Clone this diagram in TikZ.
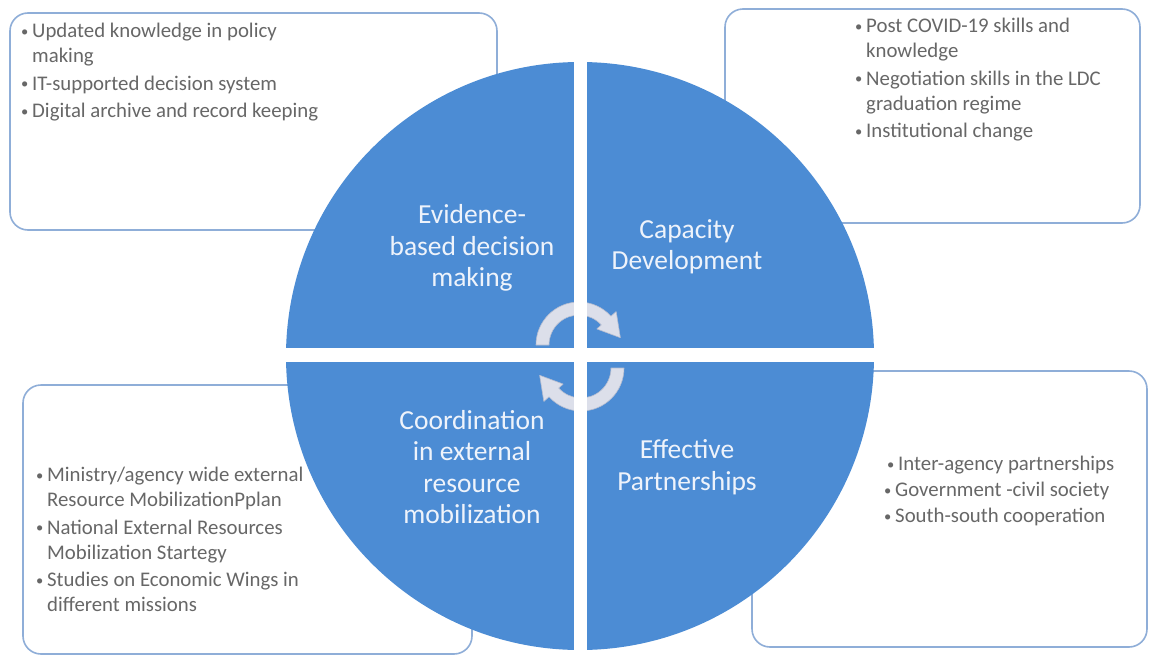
\documentclass[tikz,border=0pt]{standalone}
\usepackage{fontspec}
\setmainfont{Carlito}
\usetikzlibrary{calc}
\definecolor{wheelblue}{HTML}{4C8CD4}
\definecolor{framecol}{HTML}{8FAED8}
\definecolor{notegray}{HTML}{676767}
\definecolor{cyclefill}{HTML}{DCDFEA}
\definecolor{cycleedge}{HTML}{B4BCD0}
\definecolor{labelcol}{HTML}{EEF3FB}
% bullet and continuation indent for the note lists
\newcommand\bul[1][11pt]{\makebox[#1][l]{\raisebox{0.12ex}{\scalebox{0.7}{\textbullet}}}}
\newcommand\cont{\hspace*{11pt}}
\begin{document}
\begin{tikzpicture}[x=1pt,y=-1pt,
  notebox/.style={draw=framecol, line width=1.6pt, rounded corners=18pt, fill=white},
  notetext/.style={anchor=north west, inner sep=0pt, align=left, text=notegray,
    font=\fontsize{20.8}{25}\selectfont},
  quadlabel/.style={align=center, text=labelcol, inner sep=0pt,
    font=\fontsize{27.5}{31.5}\selectfont},
  cyclearrow/.style={fill=cyclefill, draw=cycleedge, line width=0.6pt, line join=round}]
\useasboundingbox (0,0) rectangle (1149,656);
\fill[white] (0,0) rectangle (1149,656);

% note frames behind the wheel
\draw[notebox] (10,13) rectangle (497,230);
\draw[notebox] (725,9) rectangle (1140,223);
\draw[notebox] (23,385) rectangle (472,654);
\draw[notebox] (752,371) rectangle (1147,647);

% note texts
\node[notetext] (noteTL) at (21,23) {%
  \bul Updated knowledge in policy\\
  \cont making\\[2.5pt]
  \bul IT-supported decision system\\[2.5pt]
  \bul Digital archive and record keeping};
\node[notetext] (noteTR) at (855,18) {%
  \bul Post COVID-19 skills and\\
  \cont knowledge\\[2.5pt]
  \bul Negotiation skills in the LDC\\
  \cont graduation regime\\[2.5pt]
  \bul Institutional change};
\node[notetext] (noteBL) at (36,467) {%
  \bul Ministry/agency wide external\\
  \cont Resource MobilizationPplan\\[2.5pt]
  \bul National External Resources\\
  \cont Mobilization Startegy\\[2.5pt]
  \bul Studies on Economic Wings in\\
  \cont different missions};
\node[notetext] (noteBR) at (884,456) {%
  \hspace*{3pt}\bul Inter-agency partnerships\\[1pt]
  \bul Government -civil society\\[1pt]
  \bul South-south cooperation};

% the wheel
\coordinate (hub) at (580,356);
\fill[wheelblue] (hub) circle[radius=294];

% cycle arrows at the hub
\coordinate (cA) at (579,345);
\coordinate (cB) at (581,368);
\draw[cyclearrow] ($(cA)+(180:43)$) arc[start angle=180, end angle=318, radius=43]
  -- ($(cA)+(318:50)$) -- ($(cA)+(350:42)$) -- ($(cA)+(318:24)$)
  -- ($(cA)+(318:30)$) arc[start angle=318, end angle=180, radius=30] -- cycle;
\draw[cyclearrow] ($(cB)+(0:43)$) arc[start angle=0, end angle=138, radius=43]
  -- ($(cB)+(138:50)$) -- ($(cB)+(170:42)$) -- ($(cB)+(138:24)$)
  -- ($(cB)+(138:30)$) arc[start angle=138, end angle=0, radius=30] -- cycle;

% white gaps between the quadrants
\begin{scope}
  \clip (hub) circle[radius=296];
  \fill[white] (574,0) rectangle (587,656);
  \fill[white] (0,348) rectangle (1149,362);
\end{scope}

% quadrant labels
\node[quadlabel] (evid) at (472,248) {Evidence-\\based decision\\making};
\node[quadlabel] (capdev) at (687,247) {Capacity\\Development};
\node[quadlabel] (coord) at (472,467) {Coordination\\in external\\resource\\mobilization};
\node[quadlabel] (partn) at (687,467) {Effective\\Partnerships};
\end{tikzpicture}
\end{document}
